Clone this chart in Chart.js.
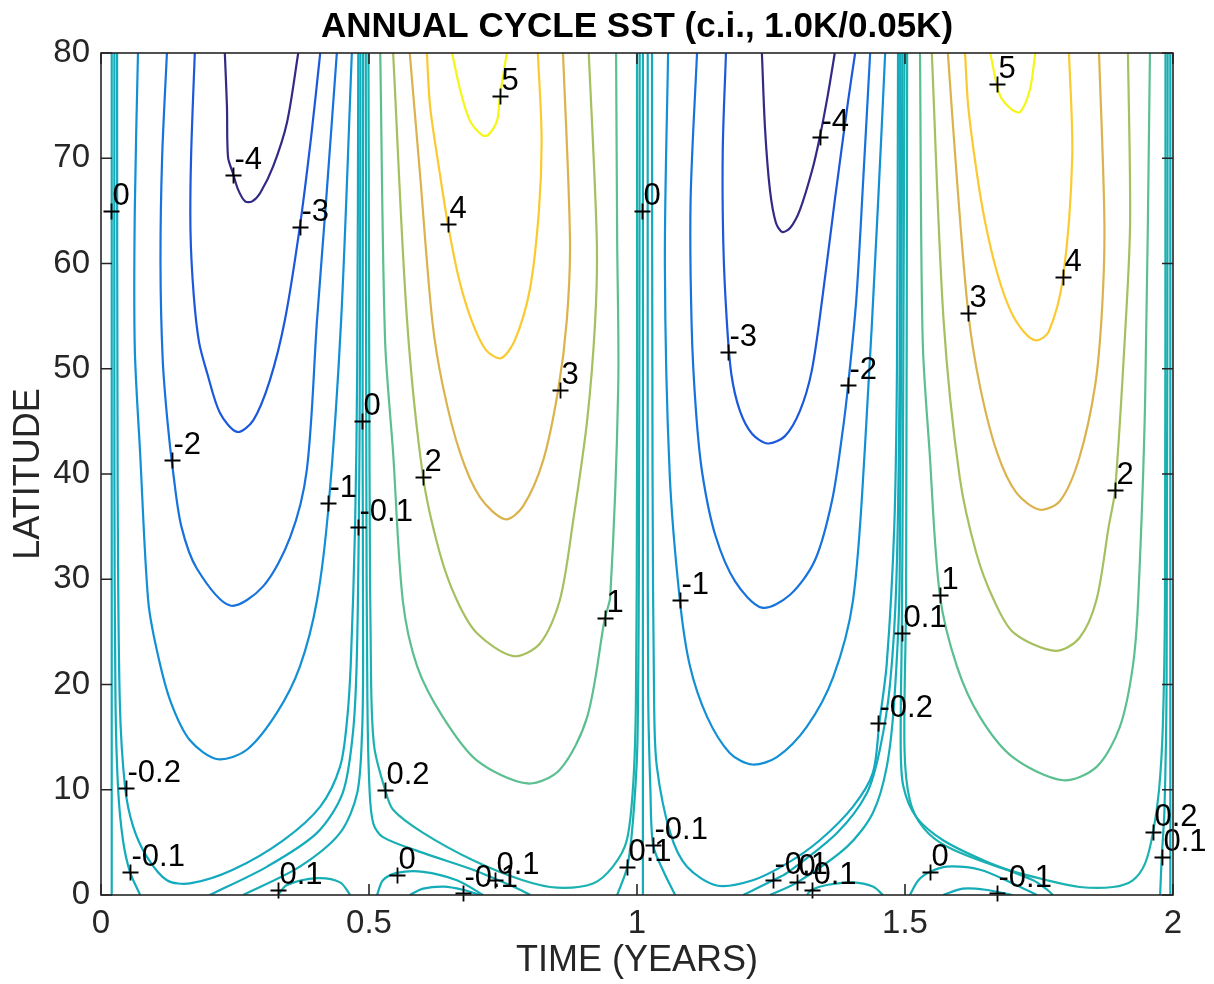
<!DOCTYPE html>
<html><head><meta charset="utf-8">
<script src="https://cdn.jsdelivr.net/npm/chart.js@4.4.1/dist/chart.umd.min.js"></script>
<style>html,body{margin:0;padding:0;background:#fff;}canvas{display:block;}</style>
</head><body>
<canvas id="c" width="1214" height="984" style="width:1214px;height:984px"></canvas>
<script>
// ---- axis ticks ----
const xTickValues = [0, 0.5, 1, 1.5, 2];
const xTickLabels = ['0', '0.5', '1', '1.5', '2'];
const yTickValues = [0, 10, 20, 30, 40, 50, 60, 70, 80];
const titleText = 'ANNUAL CYCLE SST (c.i., 1.0K/0.05K)';
const xTitle = 'TIME (YEARS)';
const yTitle = 'LATITUDE';

// ---- contour lines: [time (years), latitude] ----
// year 1, cold half
const y1m4 = [[0.231,80],[0.235,74.9],[0.237,70.1],[0.246,68.6],[0.256,67.0],[0.269,65.9],[0.282,65.9],[0.297,66.7],[0.321,69.2],[0.347,73.4],[0.368,80]];
const y1m3 = [[0.175,80],[0.168,70],[0.167,63],[0.173,57],[0.183,52.5],[0.198,49.6],[0.222,45.8],[0.254,44.0],[0.284,45.1],[0.315,48.9],[0.343,54.6],[0.371,63.5],[0.392,72],[0.409,80]];
const y1m2 = [[0.123,80],[0.114,70],[0.111,60],[0.115,51],[0.124,45],[0.135,40],[0.150,35],[0.179,31.0],[0.241,27.5],[0.302,29.3],[0.353,34.0],[0.384,40.4],[0.403,54.6],[0.420,66],[0.440,80]];
const y1m1 = [[0.069,80],[0.063,65],[0.063,52],[0.073,42],[0.088,28],[0.104,23.3],[0.129,18.5],[0.166,14.7],[0.218,12.9],[0.272,13.8],[0.328,17.3],[0.371,21.7],[0.403,28.0],[0.425,37.2],[0.448,54.6],[0.468,80]];
const y1m02 = [[0.030,80],[0.031,40],[0.035,18.5],[0.045,10.2],[0.060,6.5],[0.086,3.6],[0.123,1.4],[0.166,1.1],[0.246,2.4],[0.340,5.2],[0.409,8.4],[0.446,12.2],[0.459,16.6],[0.466,22],[0.474,35],[0.478,50],[0.480,80]];
const y1m01a = [[0.025,80],[0.025,40],[0.027,18.5],[0.032,10],[0.041,5.2],[0.054,2.2],[0.073,0]];
const y1z0a = [[0.020,80],[0.020,0]];
const y1m01b = [[0.203,0],[0.310,2.7],[0.403,5.9],[0.451,9.7],[0.470,15.4],[0.477,22],[0.481,35],[0.483,50],[0.484,80]];
const y1z0b = [[0.265,0],[0.371,2.7],[0.446,5.9],[0.478,9.7],[0.487,15.4],[0.489,22],[0.488,45],[0.489,80]];
const y1p01a = [[0.330,0],[0.347,0.95],[0.403,1.6],[0.446,1.2],[0.465,0]];
// year 1, warm half
const y1p01b = [[0.494,80],[0.495,40],[0.497,18.5],[0.501,10],[0.508,6.8],[0.526,5.5],[0.601,4.0],[0.694,2.4],[0.769,0.8],[0.801,0]];
const y1p02 = [[0.499,80],[0.501,40],[0.504,20],[0.510,14],[0.530,10.0],[0.545,8.1],[0.601,5.9],[0.694,3.3],[0.787,1.4],[0.851,0.7],[0.918,1.1],[0.955,2.7],[0.981,5.2],[0.993,10.6],[0.998,18.5],[1.000,40],[1.000,80]];
const y1z0c = [[0.515,0],[0.526,1.4],[0.552,2.1],[0.601,2.2],[0.664,1.4],[0.713,0]];
const y1m01c = [[0.576,0],[0.601,0.6],[0.640,0.8],[0.675,0.5],[0.707,0]];
const y1p01c = [[0.963,0],[0.982,2.7],[0.993,7.4],[1.001,15],[1.004,40],[1.005,80]];
const y1p1 = [[0.521,80],[0.530,52.7],[0.545,42.0],[0.563,28.0],[0.590,21.7],[0.638,16.9],[0.701,12.8],[0.795,10.6],[0.856,11.9],[0.907,16.9],[0.940,26.3],[0.950,28.3],[0.965,48.3],[0.963,62.2],[0.961,80]];
const y1p2 = [[0.545,80],[0.571,54.6],[0.601,39.7],[0.632,32.5],[0.664,28.0],[0.701,24.9],[0.769,22.7],[0.819,23.9],[0.856,28.0],[0.881,35.6],[0.907,45.1],[0.922,54.6],[0.925,62.2],[0.910,80]];
const y1p3 = [[0.576,80],[0.595,68.6],[0.618,54.6],[0.638,48.3],[0.670,42.0],[0.707,37.8],[0.754,35.7],[0.787,36.9],[0.825,41.3],[0.853,48.0],[0.869,54.6],[0.875,62.2],[0.862,80]];
const y1p4 = [[0.608,80],[0.614,74.9],[0.632,68.6],[0.647,63.8],[0.668,58.5],[0.692,54.5],[0.718,51.8],[0.746,51.0],[0.772,52.7],[0.800,57.5],[0.817,65],[0.822,72],[0.815,80]];
const y1p5 = [[0.655,80],[0.670,76.5],[0.688,73.6],[0.711,72.2],[0.722,72.2],[0.739,73.6],[0.744,75.8],[0.757,80]];
// year 2, cold half
const y2m4 = [[1.233,80],[1.239,72.7],[1.248,67.0],[1.259,63.9],[1.271,63.0],[1.286,63.4],[1.304,65.1],[1.327,68.9],[1.341,72.0],[1.356,76.0],[1.369,80]];
const y2m3 = [[1.166,80],[1.160,70.8],[1.161,62],[1.167,55],[1.176,49.5],[1.192,46.0],[1.215,43.8],[1.244,42.9],[1.276,43.6],[1.304,46.0],[1.326,49.8],[1.345,56.4],[1.369,66.0],[1.394,75.5],[1.407,80]];
const y2m2 = [[1.112,80],[1.100,66.0],[1.102,54],[1.110,46],[1.122,40],[1.146,34.2],[1.183,29.8],[1.233,27.3],[1.285,28.5],[1.332,31.8],[1.364,37.5],[1.384,44.2],[1.394,48.5],[1.409,56.5],[1.422,67.9],[1.435,80]];
const y2m1 = [[1.058,80],[1.052,60],[1.061,40],[1.080,28],[1.099,21.7],[1.131,16.9],[1.173,13.5],[1.215,12.4],[1.261,13.1],[1.317,16.0],[1.366,20.7],[1.403,28],[1.425,42.3],[1.450,66],[1.463,80]];
const y2m02 = [[1.028,80],[1.029,40],[1.032,18],[1.037,12.2],[1.062,5.9],[1.093,2.7],[1.149,0.9],[1.216,1.4],[1.280,3.0],[1.341,5.2],[1.403,8.4],[1.440,11.6],[1.452,16.3],[1.466,22],[1.480,35],[1.485,50],[1.487,80]];
const y2m01a = [[1.020,80],[1.020,40],[1.021,18.5],[1.025,10],[1.030,4.75],[1.048,2.4],[1.071,0]];
const y2z0a = [[1.011,80],[1.011,0]];
const y2m01b = [[1.198,0],[1.254,1.4],[1.280,2.1],[1.373,5.9],[1.429,9.7],[1.453,13.8],[1.472,20],[1.484,30],[1.490,50],[1.491,80]];
const y2z0b = [[1.248,0],[1.299,1.2],[1.392,4.6],[1.440,7.8],[1.466,12.2],[1.480,18.5],[1.490,30],[1.495,80]];
const y2p01a = [[1.317,0],[1.326,0.5],[1.354,0.95],[1.403,1.2],[1.440,0.8],[1.459,0]];
// year 2, warm half
const y2p01b = [[1.499,80],[1.496,40],[1.494,25],[1.492,14],[1.497,10.3],[1.521,7.4],[1.571,5.2],[1.646,3.3],[1.739,1.4],[1.765,0.5],[1.776,0]];
const y2p02 = [[1.504,80],[1.502,28],[1.499,14],[1.509,9.0],[1.534,6.4],[1.578,4.6],[1.672,2.7],[1.765,1.4],[1.826,0.76],[1.888,0.76],[1.925,1.4],[1.948,3.0],[1.963,6.0],[1.974,10],[1.981,16],[1.985,28],[1.986,80]];
const y2z0c = [[1.509,0],[1.525,1.4],[1.547,2.2],[1.578,2.7],[1.640,2.4],[1.701,1.1],[1.746,0]];
const y2m01c = [[1.571,0],[1.608,0.6],[1.650,0.5],[1.701,0]];
const y2p01c = [[1.976,0],[1.979,3.6],[1.984,8],[1.988,20],[1.990,80]];
const y2z0d = [[1.995,80],[1.995,0]];
const y2p1 = [[1.528,80],[1.533,52.7],[1.546,42.0],[1.565,28.5],[1.597,21.7],[1.640,16.9],[1.701,13.1],[1.795,10.9],[1.858,12.2],[1.901,16.0],[1.925,21.7],[1.935,28],[1.948,47],[1.957,80]];
const y2p2 = [[1.550,80],[1.572,54.6],[1.602,39.7],[1.633,32.5],[1.666,28.0],[1.703,24.9],[1.780,23.2],[1.825,24.4],[1.857,28.0],[1.880,35],[1.892,38.5],[1.912,54.6],[1.920,64],[1.916,80]];
const y2p3 = [[1.580,80],[1.596,68.6],[1.618,55.3],[1.640,48.3],[1.672,42.0],[1.708,38.2],[1.752,36.6],[1.790,37.5],[1.825,41.5],[1.855,48.5],[1.868,56],[1.872,64],[1.862,80]];
const y2p4 = [[1.612,80],[1.618,74.9],[1.634,68.6],[1.650,63.8],[1.672,59.1],[1.697,55.5],[1.722,53.5],[1.745,52.7],[1.768,53.5],[1.795,58.7],[1.812,70.1],[1.806,80]];
const y2p5 = [[1.659,80],[1.677,76.0],[1.700,74.6],[1.715,74.4],[1.733,76.5],[1.743,80]];

// ---- contour labels ----
const labelPoints = [[0.019,65],[0.246,68.4],[0.371,63.5],[0.744,75.9],[0.647,63.8],[1.009,65],[1.341,72],[1.672,77.1],[1.795,58.7],[1.618,55.3],[1.170,51.6],[1.394,48.5],[0.856,48],[0.487,45],[0.132,41.3],[0.601,39.7],[0.424,37.2],[0.479,35],[1.892,38.5],[0.940,26.3],[1.080,28],[1.565,28.5],[1.494,24.9],[1.450,16.3],[0.047,10.2],[0.530,10],[0.054,2.2],[0.330,0.5],[0.552,1.9],[0.675,0.2],[0.735,1.4],[0.981,2.7],[1.030,4.75],[1.254,1.4],[1.299,1.2],[1.326,0.5],[1.547,2.2],[1.672,0.2],[1.963,6.0],[1.979,3.6]];
const labelTexts = ['0','-4','-3','5','4','0','-4','5','4','3','-3','-2','3','0','-2','2','-1','-0.1','2','1','-1','1','0.1','-0.2','-0.2','0.2','-0.1','0.1','0','-0.1','0.1','0.1','-0.1','-0.1','0','0.1','0','-0.1','0.2','0.1'];

// ---- build the line list (array, level) ----
const contourLines = [
  [y1m4,-4],[y1m3,-3],[y1m2,-2],[y1m1,-1],[y1m02,-0.2],[y1m01a,-0.1],[y1z0a,0],[y1m01b,-0.1],[y1z0b,0],[y1p01a,0.1],
  [y1p01b,0.1],[y1p02,0.2],[y1z0c,0],[y1m01c,-0.1],[y1p01c,0.1],[y1p1,1],[y1p2,2],[y1p3,3],[y1p4,4],[y1p5,5],
  [y2m4,-4],[y2m3,-3],[y2m2,-2],[y2m1,-1],[y2m02,-0.2],[y2m01a,-0.1],[y2z0a,0],[y2m01b,-0.1],[y2z0b,0],[y2p01a,0.1],
  [y2p01b,0.1],[y2p02,0.2],[y2z0c,0],[y2m01c,-0.1],[y2p01c,0.1],[y2z0d,0],[y2p1,1],[y2p2,2],[y2p3,3],[y2p4,4],[y2p5,5]
];

const FONT = '"Liberation Sans", Arial, Helvetica, sans-serif';
function levelColor(v) {
  const map = {'-4':'#332a86','-3':'#1b58dc','-2':'#1672dc','-1':'#128fd5','-0.2':'#13a9bf','-0.1':'#14abbb','0':'#15adb8','0.1':'#17afb4','0.2':'#1cb2b0','1':'#5cbf8f','2':'#a6bf5f','3':'#dbb34e','4':'#fbca31','5':'#f5f516'};
  return map[String(v)];
}

const datasets = contourLines.map(([pts, lev]) => ({
  data: pts.map(p => ({x: p[0], y: p[1]})),
  showLine: true, pointRadius: 0, borderWidth: 2.2, tension: 0.3,
  borderColor: levelColor(lev), backgroundColor: levelColor(lev), fill: false
}));

const framePlugin = {
  id: 'frame',
  afterDatasetsDraw(chart) {
    const {ctx, chartArea: a, scales: {x, y}} = chart;
    ctx.save();
    // contour labels
    ctx.strokeStyle = '#000'; ctx.fillStyle = '#000'; ctx.lineWidth = 1.8;
    ctx.font = '31px ' + FONT; ctx.textAlign = 'left'; ctx.textBaseline = 'alphabetic';
    labelPoints.forEach((p, i) => {
      const px = Math.round(x.getPixelForValue(p[0])) + 0.5, py = Math.round(y.getPixelForValue(p[1])) + 0.5;
      ctx.beginPath();
      ctx.moveTo(px - 8, py); ctx.lineTo(px + 8, py);
      ctx.moveTo(px, py - 8); ctx.lineTo(px, py + 8);
      ctx.stroke();
      ctx.fillText(labelTexts[i], px + 1, py - 7);
    });
    // frame and inward ticks
    ctx.strokeStyle = '#262626'; ctx.lineWidth = 1.6;
    ctx.strokeRect(a.left, a.top, a.right - a.left, a.bottom - a.top);
    ctx.beginPath();
    xTickValues.forEach(v => {
      const px = x.getPixelForValue(v);
      ctx.moveTo(px, a.bottom); ctx.lineTo(px, a.bottom - 11);
      ctx.moveTo(px, a.top); ctx.lineTo(px, a.top + 11);
    });
    yTickValues.forEach(v => {
      const py = y.getPixelForValue(v);
      ctx.moveTo(a.left, py); ctx.lineTo(a.left + 11, py);
      ctx.moveTo(a.right, py); ctx.lineTo(a.right - 11, py);
    });
    ctx.stroke();
    // title
    ctx.fillStyle = '#000'; ctx.font = 'bold 35px ' + FONT; ctx.textAlign = 'center';
    ctx.fillText(titleText, (a.left + a.right) / 2, 37);
    ctx.restore();
  }
};

new Chart(document.getElementById('c'), {
  type: 'scatter',
  data: { datasets },
  options: {
    responsive: false, animation: false,
    layout: { padding: { top: 53, right: 41, left: 0, bottom: 0 } },
    plugins: { legend: { display: false }, tooltip: { enabled: false }, title: { display: false } },
    scales: {
      x: {
        type: 'linear', min: 0, max: 2,
        afterFit(s) { s.height = 89; },
        afterBuildTicks(s) { s.ticks = xTickValues.map(v => ({value: v})); },
        grid: { display: false, drawTicks: false }, border: { display: false },
        ticks: { padding: 9, color: '#262626', font: { size: 33, family: FONT },
                 callback: (v) => xTickLabels[xTickValues.indexOf(v)] },
        title: { display: true, text: xTitle, color: '#262626', font: { size: 36, family: FONT }, padding: { top: 0, bottom: 1 } }
      },
      y: {
        type: 'linear', min: 0, max: 80,
        afterFit(s) { s.width = 101; },
        afterBuildTicks(s) { s.ticks = yTickValues.map(v => ({value: v})); },
        grid: { display: false, drawTicks: false }, border: { display: false },
        ticks: { padding: 11, color: '#262626', font: { size: 33, family: FONT } },
        title: { display: true, text: yTitle, color: '#262626', font: { size: 36, family: FONT }, padding: { top: 7, bottom: 0 } }
      }
    }
  },
  plugins: [framePlugin]
});
</script>
</body></html>
